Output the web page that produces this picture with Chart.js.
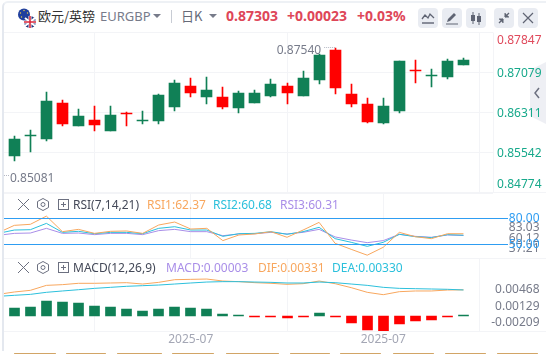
<!DOCTYPE html>
<html><head><meta charset="utf-8">
<script src="https://cdn.jsdelivr.net/npm/chart.js@4"></script>
<style>
html,body{margin:0;padding:0;background:#fff;width:546px;height:354px;overflow:hidden;font-family:"Noto Sans","Noto Sans CJK SC",sans-serif}
canvas{position:absolute;left:0}
.t{position:absolute;white-space:nowrap;line-height:16px;height:16px}
.btn{position:absolute;top:8px;width:20px;height:20px;background:#e9ecf2;border-radius:4px}
.ic{position:absolute}
#card{position:absolute;left:2px;top:1px;width:560px;height:350px;border-left:2px solid #e4e8ef;border-top:2px solid #eef1f5;border-radius:6px 0 0 0;box-sizing:border-box}
.tab{position:absolute;top:352.5px;height:1.5px;background:#d2a566;border-radius:1px}
</style></head><body>
<div id="card"></div>
<svg class="ic" style="left:17px;top:8px" width="20" height="22" viewBox="0 0 20 22">
<circle cx="7" cy="6.5" r="6" fill="#1f3f9e"/><circle cx="7" cy="2.5" r=".7" fill="#f4d03f"/><circle cx="3.5" cy="5" r=".7" fill="#f4d03f"/><circle cx="10.5" cy="5" r=".7" fill="#f4d03f"/><circle cx="4.5" cy="9" r=".7" fill="#f4d03f"/>
<circle cx="13" cy="14" r="6" fill="#24367e"/><path d="M8 10l10 8M18 10L8 18" stroke="#fff" stroke-width="2"/><path d="M13 8v12M7 14h12" stroke="#fff" stroke-width="3"/><path d="M13 8v12M7 14h12" stroke="#d8283c" stroke-width="1.6"/></svg>
<div class="t" style="left:38px;top:8px;font-size:13px;color:#333;font-family:'Noto Sans CJK SC'">欧元/英镑</div>
<div class="t" style="left:100px;top:8px;font-size:13px;color:#777b8a">EURGBP</div>
<svg class="ic" style="left:153px;top:14px" width="9" height="6"><path d="M0 0h8L4 4z" fill="#777b8a"/></svg>
<div class="ic" style="left:171px;top:10px;width:1px;height:13px;background:#c8ccd4"></div>
<div class="t" style="left:181px;top:8px;font-size:13px;color:#666a78;font-family:'Noto Sans CJK SC'">日K</div>
<svg class="ic" style="left:209px;top:14px" width="9" height="6"><path d="M0 0h8L4 4z" fill="#777b8a"/></svg>
<div class="t" id="hp" style="left:226px;top:8px;font-size:14px;font-weight:700;color:#de4658"></div>
<div class="t" id="hc" style="left:287px;top:8px;font-size:14px;font-weight:700;color:#de4658"></div>
<div class="t" id="hr" style="left:357px;top:8px;font-size:14px;font-weight:700;color:#de4658"></div>
<div class="btn" style="left:418px"></div><div class="btn" style="left:442px"></div><div class="btn" style="left:466px"></div><div class="btn" style="left:494px"></div><div class="btn" style="left:518px"></div>
<svg class="ic" style="left:418px;top:8px" width="20" height="20"><path d="M4 11l3-4 3 3 2-4 4 4" fill="none" stroke="#5f6473" stroke-width="1.3"/><path d="M4 15h12" stroke="#5f6473" stroke-width="1.4"/></svg>
<svg class="ic" style="left:442px;top:8px" width="20" height="20"><path d="M5 14l1-3 6-6 2 2-6 6z" fill="#5f6473"/><path d="M4 16h12" stroke="#5f6473"/></svg>
<svg class="ic" style="left:466px;top:8px" width="20" height="20"><path d="M7 4v12M13 5v12" stroke="#5f6473"/><rect x="5" y="7" width="4" height="6" fill="#5f6473"/><rect x="11" y="8" width="4" height="6" fill="#5f6473"/></svg>
<svg class="ic" style="left:494px;top:8px" width="20" height="20"><path d="M15 5l-4 4M5 15l4-4" stroke="#5f6473" stroke-width="1.3"/><path d="M11 5v4h4M5 11h4v4" fill="#5f6473" stroke="#5f6473"/></svg>
<svg class="ic" style="left:518px;top:8px" width="20" height="20"><path d="M5 5l10 10M15 5L5 15" stroke="#5f6473" stroke-width="1.2"/></svg>

<svg class="ic" style="left:530px;top:62px" width="16" height="62"><path d="M16 0L0 8v46l16 8z" fill="#eeeff4"/><path d="M9 26l-4 5 4 5" fill="none" stroke="#6c7080" stroke-width="1.5"/></svg>

<canvas id="cMain" width="546" height="165" style="top:30px;width:546px;height:165px"></canvas>
<canvas id="cRsi" width="546" height="70" style="top:191px;width:546px;height:70px"></canvas>
<canvas id="cMacd" width="546" height="98" style="top:256px;width:546px;height:98px"></canvas>

<svg class="ic" style="left:17px;top:198px" width="60" height="14"><path d="M1 1l11 11M12 1L1 12" stroke="#6c7080"/><path d="M26 .5l5.5 3v6l-5.5 3-5.5-3v-6z" fill="none" stroke="#6c7080"/><circle cx="26" cy="6.5" r="2" fill="none" stroke="#6c7080"/><rect x="41.5" y="1.5" width="10" height="10" fill="none" stroke="#6c7080"/><path d="M44 6.5h5M46.5 4v5" stroke="#6c7080"/></svg>
<svg class="ic" style="left:17px;top:261px" width="60" height="14"><path d="M1 1l11 11M12 1L1 12" stroke="#6c7080"/><path d="M26 .5l5.5 3v6l-5.5 3-5.5-3v-6z" fill="none" stroke="#6c7080"/><circle cx="26" cy="6.5" r="2" fill="none" stroke="#6c7080"/><rect x="41.5" y="1.5" width="10" height="10" fill="none" stroke="#6c7080"/><path d="M44 6.5h5M46.5 4v5" stroke="#6c7080"/></svg>
<div class="t" style="left:73px;top:197px;font-size:12px;color:#444958">RSI(7,14,21)</div>
<div class="t" id="r1" style="left:147px;top:197px;font-size:12px;color:#f8a75e"></div>
<div class="t" id="r2" style="left:213px;top:197px;font-size:12px;color:#2cc0dc"></div>
<div class="t" id="r3" style="left:280px;top:197px;font-size:12px;color:#a98ee8"></div>
<div class="t" style="left:73px;top:260px;font-size:12px;color:#444958">MACD(12,26,9)</div>
<div class="t" id="m1" style="left:166px;top:260px;font-size:12px;color:#a98ee8"></div>
<div class="t" id="m2" style="left:258px;top:260px;font-size:12px;color:#f8a75e"></div>
<div class="t" id="m3" style="left:332px;top:260px;font-size:12px;color:#2cc0dc"></div>
<div class="tab" style="left:14px;width:42px"></div><div class="tab" style="left:66px;width:40px"></div><div class="tab" style="left:117px;width:45px"></div><div class="tab" style="left:172px;width:42px"></div><div class="tab" style="left:226px;width:53px"></div><div class="tab" style="left:290px;width:40px"></div><div class="tab" style="left:340px;width:41px"></div><div class="tab" style="left:393px;width:41px"></div><div class="tab" style="left:445px;width:41px"></div><div class="tab" style="left:497px;width:41px"></div>
<script>
const headerPrice="0.87303", headerChange="+0.00023", headerRate="+0.03%";
const rsiLegend=["RSI1:62.37","RSI2:60.68","RSI3:60.31"];
const macdLegend=["MACD:0.00003","DIF:0.00331","DEA:0.00330"];
const priceTicks=[0.87847,0.87079,0.86311,0.85542,0.84774];
const priceTickLabels=["0.87847","0.87079","0.86311","0.85542","0.84774"];
const rsiLines=[80,50];
const rsiLineLabels=["80.00","50.00"];
const rsiTicks=[83.03,60.12,37.21];
const rsiTickLabels=["83.03","60.12","37.21"];
const macdTicks=[0.00468,0.00129,-0.00209];
const macdTickLabels=["0.00468","0.00129","-0.00209"];
const dateTicks=[11,23];
const dateLabels=["2025-07","2025-07"];
const highLabel=0.87540, lowLabel=0.85081;
const opens=[.85482,.8586,.85808,.86493,.86058,.86167,.85962,.86301,.86148,.86154,.86422,.8682,.86614,.86609,.86403,.86499,.86628,.8682,.86628,.86935,.87511,.86666,.86474,.86109,.8634,.87127,.87012,.86993,.87223];
const closes=[.85802,.85879,.86532,.86096,.86244,.86077,.86263,.86288,.86167,.86647,.86877,.86691,.86743,.86422,.86685,.86685,.86858,.86685,.86973,.87415,.86781,.86474,.86129,.86436,.873,.87108,.87031,.873,.87319];
const highs=[.8586,.85975,.86705,.86551,.86378,.86436,.86436,.86321,.8634,.86666,.86935,.86973,.86993,.86801,.86724,.86743,.86954,.86877,.87108,.87434,.8754,.86858,.86589,.86589,.87305,.87319,.87146,.87338,.87357];
const lows=[.85386,.85558,.8577,.86058,.86058,.85962,.85962,.86058,.86096,.86096,.86346,.86614,.8648,.86384,.86307,.86499,.86609,.8648,.86628,.86858,.86666,.86417,.86109,.8609,.86301,.86877,.86801,.86954,.87223];
// indicator series start one session before the first visible candle
const rsi1=[63.6,72.2,73.4,83.03,64.8,67.5,62.8,65.2,65.6,62.8,72.6,76.1,67.9,68.7,54.3,60.9,62.1,64.8,58.2,66.7,75.7,51.1,44.1,37.21,46.5,64,58.9,56.6,62.4,62.37];
const rsi2=[62.8,66.7,67.1,74.5,64,65.2,62.4,64,64,62.4,68.7,70.6,66.7,66.7,59.3,62.4,62.8,64.8,61.7,64.8,69.9,56.6,52.3,47.6,52.3,61.7,58.9,57.8,61.3,60.68];
const rsi3=[60.5,62.8,63.2,68.7,62.8,63.2,61.3,62.8,62.8,61.3,66,67.5,64.8,64.8,60.1,62.1,62.4,64,62.1,64,67.5,58.6,55,51.9,54.3,61.7,59.3,58.2,60.9,60.31];
const dif=[.00274,.00304,.00325,.00388,.00397,.00414,.00414,.00418,.00422,.00405,.00426,.0046,.00464,.00468,.00443,.00435,.00422,.00414,.00401,.00409,.00443,.00409,.00359,.003,.0027,.00308,.00317,.00317,.00329,.00331];
const dea=[.00249,.00262,.00274,.003,.00317,.00333,.0035,.00363,.00376,.00384,.00392,.00405,.00418,.0043,.00435,.00435,.0043,.00426,.00418,.00418,.0043,.00422,.00405,.00388,.00363,.0035,.00346,.00342,.00338,.0033];
const macdHist=[.00101,.00114,.0019,.00177,.00165,.00127,.00114,.00089,.00063,.00089,.00114,.00101,.00089,.00025,.00006,-.00006,-.00006,-.0002,-.00006,.00038,-.00006,-.00089,-.00177,-.0019,-.00101,-.00063,-.0005,-.00006,.00003];

const GREEN="#108056",RED="#ff0000",GRID="#f3f4f7";
const ORANGE="#f8a75e",CYAN="#2cc0dc",PURPLE="#a98ee8",BLUE="#2e9df2";
const GRAY="#777b8a",LABEL_RED="#e04a5c",LABEL_GREEN="#17a98b";
const FONT='12px "Noto Sans"';
document.getElementById('hp').textContent=headerPrice;
document.getElementById('hc').textContent=headerChange;
document.getElementById('hr').textContent=headerRate;
['r1','r2','r3'].forEach((id,i)=>document.getElementById(id).textContent=rsiLegend[i]);
['m1','m2','m3'].forEach((id,i)=>document.getElementById(id).textContent=macdLegend[i]);

const xMin=-0.643,xMax=29.84;
const pad={left:4,right:53,top:2.5,bottom:2.5};
const xAxis={type:'linear',min:xMin,max:xMax,offset:false,
  afterBuildTicks:a=>{a.ticks=dateTicks.map(v=>({value:v}));},
  ticks:{display:false},border:{display:false},
  grid:{color:GRID,drawTicks:false,lineWidth:1}};
function yAxis(min,max,ticks,grid){return {type:'linear',min,max,position:'right',
  afterBuildTicks:a=>{a.ticks=ticks.map(v=>({value:v}));},
  ticks:{display:false},border:{display:false},
  grid:grid?{color:GRID,drawTicks:false}:{display:false,drawTicks:false}};}
const snap={id:'snap',beforeDatasetsDraw(c){
  c.data.datasets.forEach((d,i)=>{ if(d.type==='line')return;
    c.getDatasetMeta(i).data.forEach(el=>{
      el.x=Math.floor(el.x)+0.5;
      let t=Math.round(el.y),b=Math.round(el.base);
      if(t===b)b=t+1;
      el.y=t;el.base=b;
    });});}};
function text(ctx,s,x,y,color,align){ctx.save();ctx.font=FONT;ctx.fillStyle=color;ctx.textAlign=align||'right';ctx.textBaseline='middle';ctx.fillText(s,x,y);ctx.restore();}
function clamp(v,a,b){return Math.max(a,Math.min(b,v));}
const AXIS_X=541.5;
function frame(ctx,area){ctx.save();ctx.strokeStyle=GRID;ctx.lineWidth=1;ctx.beginPath();ctx.moveTo(area.left,Math.floor(area.top)+.5);ctx.lineTo(area.right,Math.floor(area.top)+.5);ctx.moveTo(area.left,Math.floor(area.bottom)+.5);ctx.lineTo(546,Math.floor(area.bottom)+.5);ctx.stroke();ctx.restore();}

const opt=(x,y)=>({responsive:false,animation:false,events:[],layout:{padding:pad},
  plugins:{legend:{display:false},tooltip:{enabled:false}},scales:{x,y}});
const xs=a=>a.map((v,i)=>({x:i,y:v}));
const xsLead=a=>a.map((v,i)=>({x:i-1,y:v}));

new Chart('cMain',{type:'bar',plugins:[snap,{id:'mainLabels',afterDraw(c){
    const ctx=c.ctx,y=c.scales.y,x=c.scales.x,a=c.chartArea;
    frame(ctx,a);
    ctx.save();ctx.strokeStyle=GRID;ctx.beginPath();ctx.moveTo(a.right+.5,a.top);ctx.lineTo(a.right+.5,a.bottom);ctx.stroke();ctx.restore();
    priceTicks.forEach((v,i)=>text(ctx,priceTickLabels[i],AXIS_X,clamp(y.getPixelForValue(v)+1.5,a.top+8,a.bottom-8),i===0?LABEL_RED:LABEL_GREEN));
    const hi=y.getPixelForValue(highLabel),hx=x.getPixelForValue(20);
    text(ctx,highLabel.toFixed(5),hx-14,hi+2,GRAY);
    ctx.save();ctx.strokeStyle='#b5b8c4';ctx.setLineDash([1,1]);ctx.beginPath();ctx.moveTo(hx-11,Math.floor(hi)-.5);ctx.lineTo(hx,Math.floor(hi)-.5);ctx.stroke();ctx.restore();
    const lo=y.getPixelForValue(lowLabel);
    ctx.save();ctx.strokeStyle='#b5b8c4';ctx.setLineDash([1,1]);ctx.beginPath();ctx.moveTo(4,Math.floor(lo)-.5);ctx.lineTo(9,Math.floor(lo)-.5);ctx.stroke();ctx.restore();
    text(ctx,lowLabel.toFixed(5),10,lo+2.5,GRAY,'left');
  }}],data:{datasets:[
    {label:'wick',data:highs.map((h,i)=>({x:i,y:[lows[i],h]})),barThickness:1,grouped:false,order:2,
      backgroundColor:closes.map((c,i)=>c>=opens[i]?GREEN:RED)},
    {label:'body',data:opens.map((o,i)=>({x:i,y:[o,closes[i]]})),barThickness:11,grouped:false,order:1,
      backgroundColor:closes.map((c,i)=>c>=opens[i]?GREEN:RED)}
  ]},options:opt(xAxis,yAxis(0.84774,0.87847,priceTicks,true))});

const line=(data,color)=>({type:'line',data,borderColor:color,borderWidth:1,pointRadius:0,tension:0,fill:false});
new Chart('cRsi',{type:'line',plugins:[{id:'rsiLabels',afterDraw(c){
    const ctx=c.ctx,y=c.scales.y,a=c.chartArea;
    frame(ctx,a);
    rsiTicks.forEach((v,i)=>text(ctx,rsiTickLabels[i],AXIS_X-2,clamp(y.getPixelForValue(v)+2.6,227.7-191,249-191),GRAY));
    rsiLines.forEach((v,i)=>{const p=Math.floor(y.getPixelForValue(v))+.5;
      ctx.save();ctx.strokeStyle=BLUE;ctx.beginPath();ctx.moveTo(a.left,p);ctx.lineTo(508,p);ctx.stroke();ctx.restore();
      text(ctx,rsiLineLabels[i],AXIS_X-2,p,BLUE);});
  }}],data:{datasets:[line(xsLead(rsi1),ORANGE),line(xsLead(rsi2),CYAN),line(xsLead(rsi3),PURPLE)]},
  options:opt(xAxis,yAxis(33.34,109.54,rsiTicks,false))});

new Chart('cMacd',{type:'bar',plugins:[snap,{id:'macdLabels',afterDraw(c){
    const ctx=c.ctx,y=c.scales.y,x=c.scales.x,a=c.chartArea;
    frame(ctx,a);
    macdTicks.forEach((v,i)=>text(ctx,macdTickLabels[i],AXIS_X-2,clamp(y.getPixelForValue(v)+1,290-256,322.7-256),GRAY));
    dateTicks.forEach((v,i)=>text(ctx,dateLabels[i],x.getPixelForValue(v),84,'#a4a7b5','center'));
  }}],data:{datasets:[
    {type:'bar',data:xs(macdHist),barThickness:10,minBarLength:1,order:2,grouped:false,
      backgroundColor:macdHist.map(v=>v>=0?GREEN:RED)},
    Object.assign(line(xsLead(dif),ORANGE),{order:1}),Object.assign(line(xsLead(dea),CYAN),{order:0})
  ]},options:(()=>{const o=opt(xAxis,yAxis(-0.00196,0.00728,macdTicks,false));o.layout={padding:{left:4,right:53,top:2.5,bottom:22.5}};return o;})()});
</script>
</body></html>
